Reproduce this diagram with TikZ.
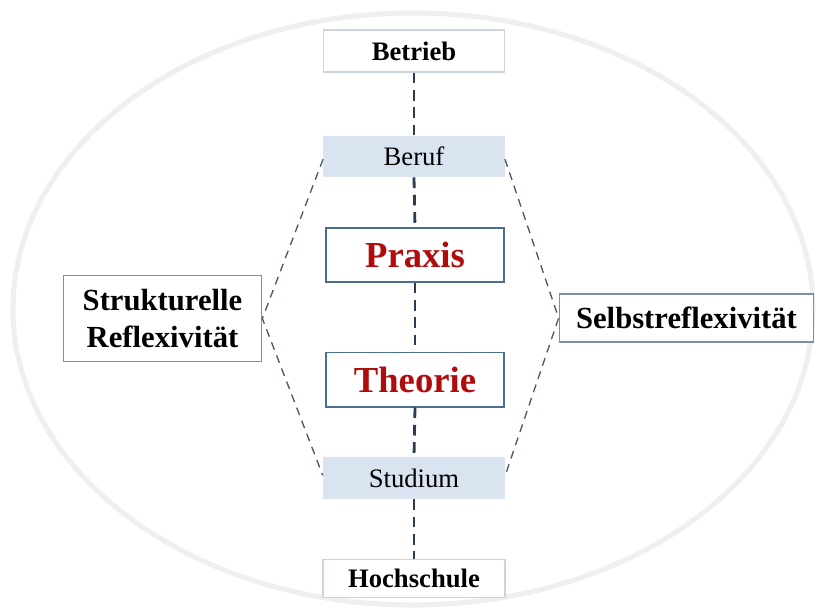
\documentclass[tikz,border=0pt]{standalone}
\usepackage{fontspec}
\setmainfont{Liberation Serif}
\definecolor{fillblue}{HTML}{DAE3F0}
\definecolor{lightedge}{HTML}{CCD5DF}
\definecolor{steeledge}{HTML}{4F6D8C}
\definecolor{sideedge}{HTML}{7F8FA0}
\definecolor{navy}{HTML}{2B3D52}
\definecolor{darkred}{HTML}{B00C0C}
\definecolor{ringgray}{HTML}{EFEFEF}
\begin{document}
\begin{tikzpicture}[x=0.75pt,y=-0.75pt,
  lightbox/.style={draw=lightedge, line width=0.8pt, fill=white, inner sep=0pt, font=\bfseries\fontsize{20}{23}\selectfont},
  fillbox/.style={fill=fillblue, draw=none, inner sep=0pt, font=\fontsize{20}{23}\selectfont},
  redbox/.style={draw=steeledge, line width=1pt, fill=white, inner sep=0pt, text=darkred, font=\bfseries\fontsize{27.5}{30}\selectfont},
  sidebox/.style={draw=sideedge, line width=0.8pt, fill=white, inner sep=0pt, align=center, font=\bfseries\fontsize{23}{28}\selectfont},
  midline/.style={draw=navy, line width=2.1pt, dash pattern=on 8pt off 5pt},
  sideline/.style={draw=navy!85, line width=1pt, dash pattern=on 6pt off 4.5pt}]
\useasboundingbox (0,0) rectangle (819,611);
\fill[white] (0,0) rectangle (819,611);
\draw[ringgray, line width=3.8pt] (413,309) ellipse [x radius=400, y radius=296];
\node[lightbox, minimum width=136pt, minimum height=31.5pt] (betrieb) at (414,51) {Betrieb};
\node[fillbox, minimum width=136pt, minimum height=31pt] (beruf) at (414,156.5) {Beruf};
\node[redbox, minimum width=133.5pt, minimum height=40.5pt] (praxis) at (415,255) {Praxis};
\node[redbox, minimum width=133.5pt, minimum height=41pt] (theorie) at (415,379.5) {Theorie};
\node[fillbox, minimum width=136.5pt, minimum height=31.5pt] (studium) at (414,478) {Studium};
\node[lightbox, minimum width=136.5pt, minimum height=28pt] (hoch) at (414,578.5) {Hochschule};
\node[sidebox, minimum width=149pt, minimum height=65pt] (struk) at (162.5,318.5) {Strukturelle\\Reflexivität};
\node[sidebox, minimum width=191pt, minimum height=36pt] (selbst) at (686.5,318) {Selbstreflexivität};
\draw[midline] (betrieb.south) -- (beruf.north);
\draw[midline] (beruf.south) -- (praxis.north);
\draw[midline] (praxis.south) -- (theorie.north);
\draw[midline] (theorie.south) -- (studium.north);
\draw[midline] (studium.south) -- (hoch.north);
\draw[sideline] ([yshift=-2pt]beruf.west) -- (struk.east) -- ([yshift=2pt]studium.west);
\draw[sideline] ([yshift=-2pt]beruf.east) -- (selbst.west) -- ([yshift=2pt]studium.east);
\end{tikzpicture}
\end{document}
